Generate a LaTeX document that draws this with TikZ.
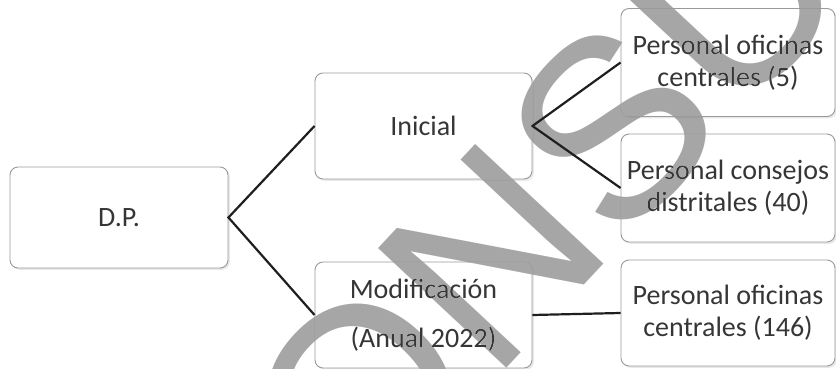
\documentclass[tikz,border=0pt]{standalone}
\usepackage{fontspec}
\setmainfont{Carlito}
\newfontfamily\wmfont{Liberation Sans}
\usetikzlibrary{shadows}
\definecolor{boxline}{HTML}{9A9A9A}
\definecolor{txt}{HTML}{363636}
\definecolor{wm}{HTML}{A6A6A6}
\tikzset{
  box/.style={draw=boxline, line width=0.9pt, rounded corners=8pt, fill=white,
    align=center, text=txt, font=\fontsize{28}{32}\selectfont, inner sep=0pt,
    drop shadow={opacity=0.18, shadow xshift=1.8pt, shadow yshift=-1.8pt}},
  midbox/.style={box, minimum width=217pt, minimum height=106pt},
  rbox/.style={box, minimum width=214pt, minimum height=108pt},
  link/.style={draw=black!88, line width=2.2pt},
  wmark/.style={anchor=base west, rotate=47, inner sep=0pt, text=wm,
    font=\wmfont\fontsize{255}{255}\selectfont}
}
\begin{document}
\begin{tikzpicture}[x=1pt,y=1pt]
\useasboundingbox (0,0) rectangle (836,-369);
\node[box, minimum width=218pt, minimum height=101pt] (dp) at (119,-217.5) {D.P.};
\node[midbox] (ini) at (423.5,-126) {Inicial};
\node[midbox] (mod) at (423.5,-315) {Modificación\\[17pt](Anual 2022)};
\node[rbox] (r1) at (728,-62.5) {Personal oficinas\\centrales (5)};
\node[rbox] (r2) at (728,-188) {Personal consejos\\distritales (40)};
\node[rbox, minimum height=106pt] (r3) at (728,-313) {Personal oficinas\\centrales (146)};
\draw[link] (ini.west) -- (dp.east) -- (mod.west);
\draw[link] (r1.west) -- (ini.east) -- (r2.west);
\draw[link] (mod.east) -- (r3.west);
\begin{scope}[blend mode=darken]
\clip (0,0) rectangle (836,-369);
\node[wmark] (wm) at (357,-529) {ONSU};
\end{scope}
\end{tikzpicture}
\end{document}
